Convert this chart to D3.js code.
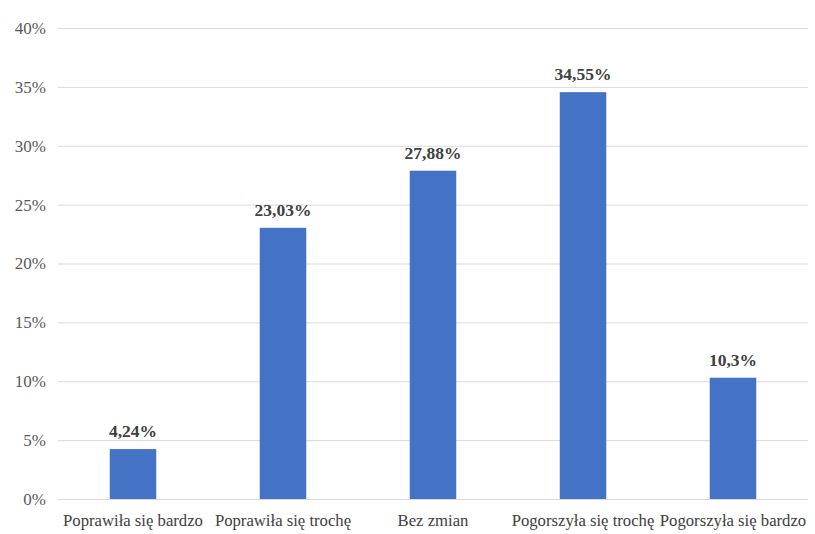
<!DOCTYPE html>
<html>
<head>
<meta charset="utf-8">
<script src="https://cdn.jsdelivr.net/npm/d3@7"></script>
<style>
  body { margin: 0; background: #fff; }
</style>
</head>
<body>
<div class="chart-container"></div>
<script>
const categories = ["Poprawiła się bardzo", "Poprawiła się trochę", "Bez zmian", "Pogorszyła się trochę", "Pogorszyła się bardzo"];
const values = [4.24, 23.03, 27.88, 34.55, 10.3];
const valueLabels = ["4,24%", "23,03%", "27,88%", "34,55%", "10,3%"];
const yTicks = [0, 5, 10, 15, 20, 25, 30, 35, 40];

const width = 815;
const height = 534;
const marginTop = 28;
const marginRight = 7;
const marginBottom = 35;
const marginLeft = 58;
const fontSerif = '"Liberation Serif"';

const svg = d3.select('.chart-container').append('svg')
    .attr('width', width)
    .attr('height', height);

const x = d3.scaleBand()
    .domain(categories)
    .range([marginLeft, width - marginRight])
    .paddingInner(0.69)
    .paddingOuter(0.345);

const y = d3.scaleLinear()
    .domain([0, 40])
    .range([height - marginBottom, marginTop]);

// gridlines
svg.append('g')
    .selectAll('line')
    .data(yTicks)
    .enter()
    .append('line')
    .attr('x1', marginLeft)
    .attr('x2', width - marginRight)
    .attr('y1', d => y(d) + 0.5)
    .attr('y2', d => y(d) + 0.5)
    .attr('stroke', '#d9d9d9')
    .attr('stroke-width', 1);

// y tick labels
svg.append('g')
    .selectAll('text')
    .data(yTicks)
    .enter()
    .append('text')
    .attr('x', 46)
    .attr('y', d => y(d))
    .attr('dy', '0.35em')
    .attr('text-anchor', 'end')
    .style('font-family', fontSerif)
    .attr('font-size', 17)
    .attr('fill', '#595959')
    .text(d => d + '%');

// bars
svg.append('g')
    .selectAll('rect')
    .data(values)
    .enter()
    .append('rect')
    .attr('x', (d, i) => x(categories[i]))
    .attr('y', d => y(d))
    .attr('width', x.bandwidth())
    .attr('height', d => y(0) - y(d))
    .attr('fill', '#4472c4');

// value labels
svg.append('g')
    .selectAll('text')
    .data(values)
    .enter()
    .append('text')
    .attr('x', (d, i) => x(categories[i]) + x.bandwidth() / 2)
    .attr('y', d => y(d) - 12)
    .attr('text-anchor', 'middle')
    .style('font-family', fontSerif)
    .attr('font-size', 17.5)
    .attr('font-weight', 'bold')
    .attr('fill', '#404040')
    .text((d, i) => valueLabels[i]);

// category labels
svg.append('g')
    .selectAll('text')
    .data(categories)
    .enter()
    .append('text')
    .attr('x', d => x(d) + x.bandwidth() / 2)
    .attr('y', height - marginBottom + 27)
    .attr('text-anchor', 'middle')
    .style('font-family', fontSerif)
    .attr('font-size', 16.7)
    .attr('fill', '#404040')
    .text(d => d);
</script>
</body>
</html>
